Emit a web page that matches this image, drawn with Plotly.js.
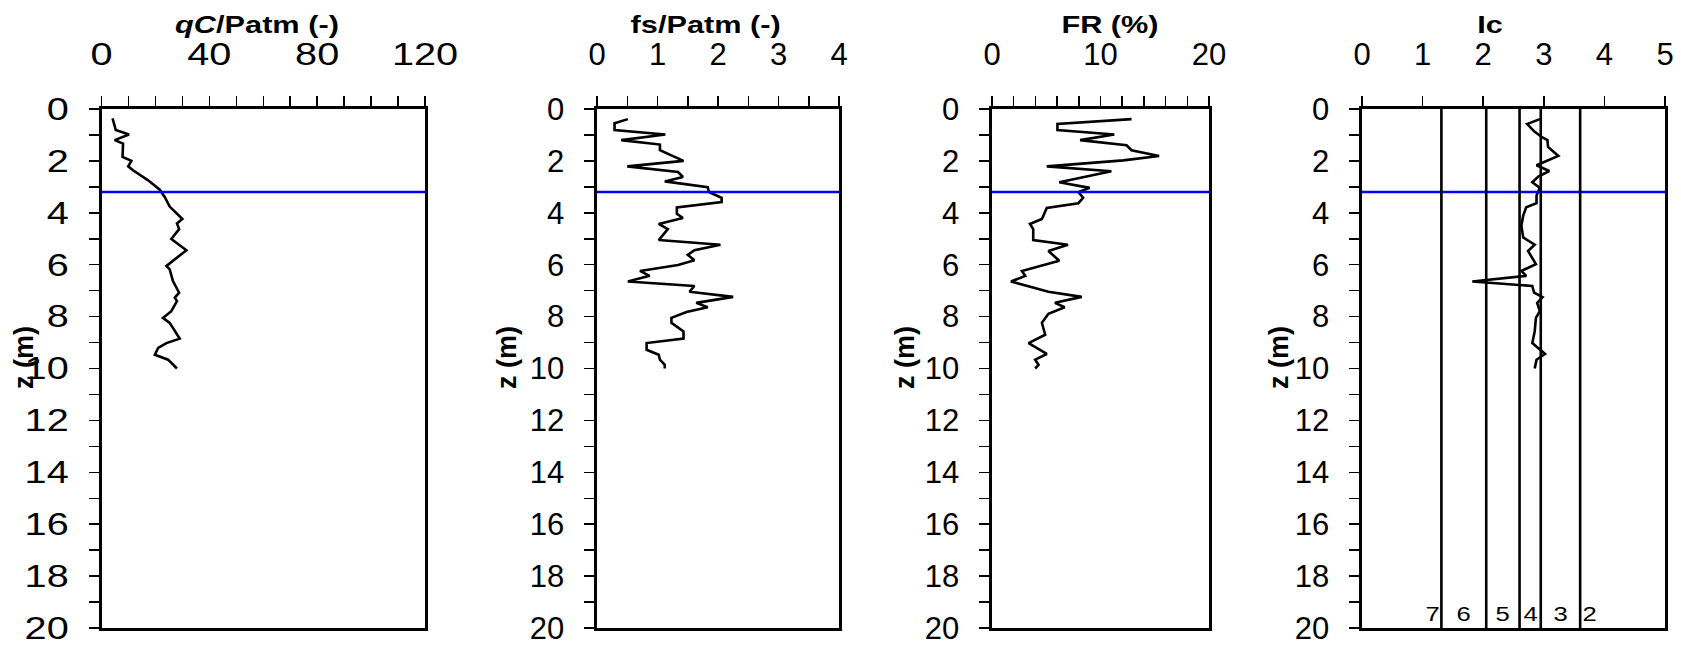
<!DOCTYPE html>
<html>
<head>
<meta charset="utf-8">
<script src="https://cdn.plot.ly/plotly-3.0.1.min.js"></script>
<style>
html,body{margin:0;padding:0;background:#fff;}
#chart{width:1681px;height:648px;}
</style>
</head>
<body>
<div id="chart"></div>
<script>
// ---- data ----
const zQc = [0.36,0.62,0.81,0.98,1.2,1.33,1.72,1.85,2.0,2.21,2.36,2.75,3.11,3.40,3.76,4.04,4.24,4.41,4.63,5.01,5.44,6.05,6.18,6.63,7.08,7.27,7.4,7.79,8.05,8.24,8.85,9.02,9.21,9.47,9.66,10.0];
const qc  = [4.1,4.9,5.3,10.2,4.9,8.0,8.0,7.8,11.1,9.9,11.7,17.3,21.6,23.5,25.3,28.0,30.0,28.0,28.8,25.9,31.5,24.1,25.3,26.5,28.8,27.2,28.0,25.9,22.8,25.3,29.0,24.1,21.0,19.8,24.7,28.0];

const zFs = [0.39,0.55,0.81,0.98,1.2,1.37,1.59,2.0,2.21,2.43,2.62,2.79,3.01,3.2,3.42,3.59,3.79,4.04,4.2,4.43,4.63,5.05,5.23,5.44,5.62,5.83,6.01,6.24,6.43,6.65,6.82,7.04,7.24,7.47,7.64,7.82,8.05,8.24,8.57,8.85,9.02,9.28,9.47,9.66,9.86,10.0];
const fs  = [0.51,0.29,0.29,1.13,0.40,1.04,1.04,1.43,0.50,1.34,1.42,1.12,1.83,1.85,2.06,2.06,1.32,1.32,1.42,1.02,1.17,1.02,2.04,1.61,1.50,1.61,1.34,0.71,0.87,0.51,1.61,1.53,2.25,1.64,1.83,1.48,1.23,1.23,1.43,1.43,0.82,0.82,1.02,1.04,1.12,1.12];

const zFr = [0.39,0.58,0.81,0.98,1.2,1.4,1.59,1.81,1.98,2.21,2.40,2.82,3.04,3.2,3.42,3.63,3.81,4.24,4.43,4.63,5.05,5.23,5.47,5.85,6.24,6.43,6.65,7.04,7.24,7.47,7.64,7.89,8.24,8.7,9.02,9.44,9.66,9.86,10.0];
const fr  = [12.86,6.03,6.03,11.27,8.12,12.4,12.86,15.4,12.1,5.05,11.0,6.2,9.0,7.96,8.4,7.96,5.05,4.6,3.5,3.8,3.8,7.0,5.2,6.2,2.76,3.06,1.75,5.2,8.27,5.8,6.7,5.2,4.6,4.9,3.37,5.05,3.98,4.29,3.98];

const zIc = [0.39,0.58,0.88,1.07,1.2,1.46,1.81,2.17,2.39,2.60,2.82,3.04,3.33,3.63,3.79,4.11,4.5,4.95,5.23,5.47,5.98,6.24,6.43,6.65,6.82,7.08,7.25,7.47,7.79,8.05,8.57,9.02,9.44,9.66,10.0];
const ic  = [2.935,2.726,2.85,2.96,3.06,3.07,3.24,2.88,3.09,2.91,2.81,2.935,2.88,2.88,2.71,2.66,2.63,2.66,2.85,2.74,2.87,2.63,2.71,1.82,2.81,2.84,2.98,2.89,2.935,2.87,2.85,2.81,3.02,2.88,2.85];

const waterTable = 3.2;
const icBounds = [1.31, 2.05, 2.60, 2.95, 3.60];
const zoneNames = ['7','6','5','4','3','2'];

const panelTitles = ['<b><i>qC</i>/Patm (-)</b>', '<b>fs/Patm (-)</b>', '<b>FR (%)</b>', '<b>Ic</b>'];
const zLabel = '<b>z (m)</b>';

// ---- styling / layout ----
const W = 1681, H = 648;
const FONT = 'Liberation Sans, Arial, Helvetica, sans-serif';
const TEXT_STRETCH = 1.28;   // the reference glyphs are drawn wider than Arial
const LW = 2.6;
const px = v => v / W;
const py = v => 1 - v / H;

const xDomains = [[px(101.5), px(425)], [px(597), px(839)], [px(992), px(1209)], [px(1362), px(1665)]];
const yDomain = [py(628), py(109)];
const xRanges = [[0,120],[0,4],[0,20],[0,5]];
const xDticks = [40, 1, 10, 1];
const xMinor = [10, 0.5, 2, null];
const titleX = [257, 705, 1110, 1490];
const zLabelX = [24, 507, 905, 1279];

const series = [[qc, zQc], [fs, zFs], [fr, zFr], [ic, zIc]];

const traces = series.map((s, i) => ({
  x: s[0], y: s[1], type: 'scatter', mode: 'lines',
  line: {color: '#000', width: LW},
  xaxis: i === 0 ? 'x' : 'x' + (i+1),
  yaxis: i === 0 ? 'y' : 'y' + (i+1),
  showlegend: false, hoverinfo: 'skip'
}));

const layout = {
  width: W, height: H,
  margin: {l:0, r:0, t:0, b:0},
  paper_bgcolor: '#fff', plot_bgcolor: '#fff',
  font: {family: FONT, color: '#000', size: 32},
  showlegend: false,
  shapes: [], annotations: []
};

for (let i = 0; i < 4; i++) {
  const xk = i === 0 ? 'xaxis' : 'xaxis' + (i+1);
  const yk = i === 0 ? 'yaxis' : 'yaxis' + (i+1);
  const ya = i === 0 ? 'y' : 'y' + (i+1);
  const xa = i === 0 ? 'x' : 'x' + (i+1);
  const xax = {
    domain: xDomains[i], range: xRanges[i], side: 'top', anchor: ya,
    dtick: xDticks[i], tick0: 0,
    ticks: 'outside', ticklen: 10, tickwidth: 1.5, tickcolor: '#000',
    showline: true, linecolor: '#000', linewidth: LW, mirror: true,
    showgrid: false, zeroline: false, fixedrange: true,
    tickfont: {family: FONT, size: 31, color: '#000'},
    ticklabelstandoff: 19
  };
  if (xMinor[i]) xax.minor = {dtick: xMinor[i], tick0: 0, ticks: 'outside', ticklen: 10, tickwidth: 1.5, tickcolor: '#000', showgrid: false};
  layout[xk] = xax;
  layout[yk] = {
    domain: yDomain, range: [20, 0], anchor: xa,
    dtick: 2, tick0: 0,
    ticks: 'outside', ticklen: 10, tickwidth: 1.5, tickcolor: '#000',
    minor: {dtick: 1, tick0: 0, ticks: 'outside', ticklen: 10, tickwidth: 1.5, tickcolor: '#000', showgrid: false},
    showline: true, linecolor: '#000', linewidth: LW, mirror: true,
    showgrid: false, zeroline: false, fixedrange: true,
    tickfont: {family: FONT, size: 31, color: '#000'},
    ticklabelstandoff: 14
  };
  // water table line
  layout.shapes.push({type: 'line', xref: xa + ' domain', x0: 0, x1: 1, yref: ya, y0: waterTable, y1: waterTable,
    line: {color: '#0000ff', width: LW}, layer: 'above'});
  // panel title
  layout.annotations.push({text: panelTitles[i], xref: 'paper', yref: 'paper', x: px(titleX[i]), y: py(25),
    xanchor: 'center', yanchor: 'middle', showarrow: false, font: {family: FONT, size: 24, color: '#000'}});
  // depth label
  layout.annotations.push({text: zLabel, xref: 'paper', yref: 'paper', x: px(zLabelX[i]), y: py(358),
    xanchor: 'center', yanchor: 'middle', textangle: -90, showarrow: false, font: {family: FONT, size: 27, color: '#000'}});
}

// Ic soil behaviour type boundaries
icBounds.forEach(b => layout.shapes.push({type: 'line', xref: 'x4', x0: b, x1: b, yref: 'y4 domain', y0: 0, y1: 1,
  line: {color: '#000', width: LW}}));

// zone labels
zoneNames.forEach((n, k) => {
  let x, anchor;
  if (k === 0) { x = icBounds[0]; anchor = 'right'; }
  else if (k === zoneNames.length - 1) { x = icBounds[icBounds.length - 1]; anchor = 'left'; }
  else { x = (icBounds[k-1] + icBounds[k]) / 2; anchor = 'center'; }
  layout.annotations.push({text: n, xref: 'x4', yref: 'y4', x: x, y: 19.45, xanchor: anchor, yanchor: 'middle',
    showarrow: false, xshift: anchor === 'right' ? -1 : (anchor === 'left' ? 2 : 0),
    font: {family: FONT, size: 20, color: '#000'}});
});

// widen horizontal text glyphs about their anchor point, like the reference lettering
function widenText(gd, s) {
  const els = gd.querySelectorAll('g.xtick text, g.ytick text, text.annotation-text');
  els.forEach(t => {
    if (t.textContent.trim() === 'z (m)') return;
    const bb = t.getBBox();
    const anchor = t.getAttribute('text-anchor') || 'start';
    let cx = bb.x + bb.width / 2;
    if (anchor === 'end') cx = bb.x + bb.width;
    else if (anchor === 'start') cx = bb.x;
    const tr = t.getAttribute('transform') || '';
    t.setAttribute('transform', (tr + ' translate(' + cx + ',0) scale(' + s + ',1) translate(' + (-cx) + ',0)').trim());
  });
}

Plotly.newPlot('chart', traces, layout, {staticPlot: true, displayModeBar: false})
  .then(gd => widenText(gd, TEXT_STRETCH));
</script>
</body>
</html>
